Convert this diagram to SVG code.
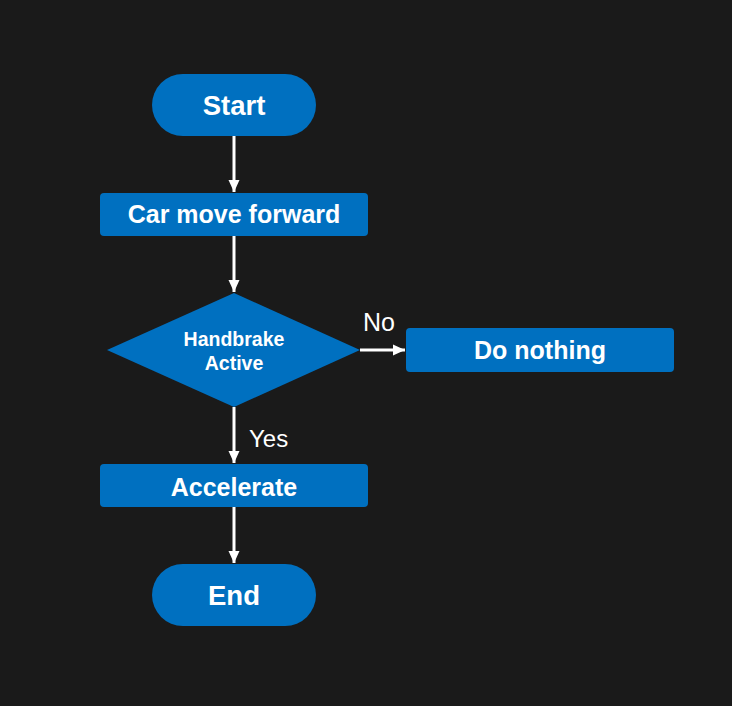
<svg xmlns="http://www.w3.org/2000/svg" width="732" height="706" viewBox="0 0 732 706">
<defs>
<marker id="arr" markerWidth="14" markerHeight="14" refX="12" refY="6" orient="auto" markerUnits="userSpaceOnUse">
<path d="M0,0.5 L12,6 L0,11.5 z" fill="#ffffff"/>
</marker>
<style>
.n{fill:#0070c0;}
.t{font-family:"Liberation Sans",Arial,sans-serif;font-weight:bold;fill:#ffffff;text-anchor:middle;}
.l{font-family:"Liberation Sans",Arial,sans-serif;fill:#ffffff;}
.c{stroke:#ffffff;stroke-width:3;fill:none;marker-end:url(#arr);}
</style>
</defs>
<rect width="732" height="706" fill="#1a1a1a"/>
<g id="connectors">
<line class="c" x1="234" y1="136" x2="234" y2="192"/>
<line class="c" x1="234" y1="236" x2="234" y2="292"/>
<line class="c" x1="360" y1="350" x2="405" y2="350"/>
<line class="c" x1="234" y1="407" x2="234" y2="463"/>
<line class="c" x1="234" y1="507" x2="234" y2="563"/>
<text class="l" x="363" y="331" font-size="25">No</text>
<text class="l" x="249" y="447" font-size="24">Yes</text>
</g>
<g id="start">
<rect class="n" x="152" y="74" width="164" height="62" rx="31"/>
<text class="t" x="234" y="115" font-size="27.5">Start</text>
</g>
<g id="car">
<rect class="n" x="100" y="193" width="268" height="43" rx="4"/>
<text class="t" x="234" y="223" font-size="25">Car move forward</text>
</g>
<g id="handbrake">
<polygon class="n" points="234,293 360,350 234,407 107,350"/>
<text class="t" x="234" y="346" font-size="19.5">Handbrake</text>
<text class="t" x="234" y="370" font-size="19.5">Active</text>
</g>
<g id="nothing">
<rect class="n" x="406" y="328" width="268" height="44" rx="4"/>
<text class="t" x="540" y="359" font-size="25">Do nothing</text>
</g>
<g id="accelerate">
<rect class="n" x="100" y="464" width="268" height="43" rx="4"/>
<text class="t" x="234" y="496" font-size="25">Accelerate</text>
</g>
<g id="end">
<rect class="n" x="152" y="564" width="164" height="62" rx="31"/>
<text class="t" x="234" y="605" font-size="27.5">End</text>
</g>
</svg>
